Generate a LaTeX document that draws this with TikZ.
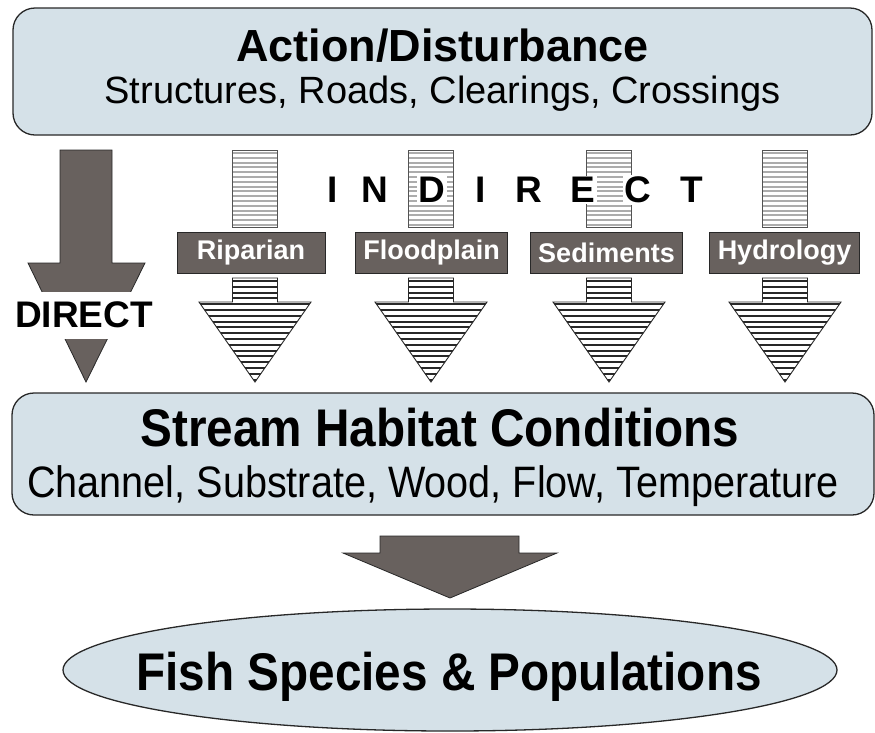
\documentclass[tikz,border=0pt]{standalone}
\usepackage{fontspec}
\setmainfont{Liberation Sans}
\newfontfamily\narrowsans[FakeStretch=0.9]{Liberation Sans}
\usetikzlibrary{positioning,shapes.geometric}

\definecolor{boxblue}{RGB}{213,225,232}
\definecolor{arrowgray}{RGB}{104,97,94}
\definecolor{stripegray}{RGB}{172,172,172}
\definecolor{edgegray}{RGB}{40,40,40}

\newcommand\figsize[1]{\fontsize{#1}{#1}\selectfont}

\tikzset{
  stage/.style={draw=edgegray,line width=1.3pt,fill=boxblue,
    rounded corners=22pt,inner sep=0pt},
  factor/.style={draw=edgegray,line width=0.8pt,fill=arrowgray,text=white,
    font=\figsize{27}\bfseries,minimum width=148pt,minimum height=41pt,
    inner xsep=8pt,inner ysep=0pt},
  solidarrow/.style={draw=edgegray,line width=0.8pt,fill=arrowgray},
  shaftedge/.style={draw=edgegray!80,line width=0.9pt},
  lightstripe/.style={stripegray,line width=2pt},
  darkstripe/.style={edgegray,line width=2.1pt},
  letter/.style={fill=white,inner sep=1.5pt,font=\figsize{37}\bfseries}
}

\begin{document}
\begin{tikzpicture}[x=1pt,y=-1pt]

\useasboundingbox (0,0) rectangle (875,732);

% Action box
\node[stage,minimum width=859pt,minimum height=127pt] (action) at (442.5,71.5) {};
\node[anchor=base,font=\figsize{45}\bfseries] (actiontitle) at (442.5,61)
  {Action/Disturbance};
\node[anchor=base,font=\figsize{38}] (actionsub) at (442.5,103)
  {Structures, Roads, Clearings, Crossings};

% Direct arrow
\draw[solidarrow] (60,150) -- (112,150) -- (112,263) -- (145,263)
  -- (86,382) -- (28,263) -- (60,263) -- cycle;
\node[fill=white,minimum height=47pt,inner xsep=2pt,
  font=\figsize{37}\bfseries] (direct) at (84,315) {DIRECT};

% Indirect arrows
\foreach \c/\b/\name/\txt in {255/251/riparian/Riparian,
    431/431.5/floodplain/Floodplain,609/606.5/sediments/Sediments,
    785/784.5/hydrology/Hydrology}{
  % upper shaft
  \begin{scope}
    \clip (\c-22.5,150) rectangle (\c+22.5,227);
    \fill[white] (\c-22.5,150) rectangle (\c+22.5,227);
    \foreach \yy in {153,157.8,...,227}
      \draw[lightstripe] (\c-25,\yy) -- (\c+25,\yy);
  \end{scope}
  \draw[shaftedge] (\c-22.5,150) rectangle (\c+22.5,227);
  % lower shaft and head
  \begin{scope}
    \clip (\c-22.5,278) -- (\c+22.5,278) -- (\c+22.5,302) -- (\c+56,302)
      -- (\c,382) -- (\c-56,302) -- (\c-22.5,302) -- cycle;
    \foreach \yy in {281,286.8,...,382}
      \draw[darkstripe] (\c-60,\yy) -- (\c+60,\yy);
  \end{scope}
  \draw[edgegray,line width=0.9pt] (\c-22.5,278) -- (\c+22.5,278)
    -- (\c+22.5,302) -- (\c+56,302) -- (\c,382) -- (\c-56,302)
    -- (\c-22.5,302) -- cycle;
  % label
  \node[factor] (\name) at (\b,252.5) {\txt};
}

% Indirect letters
\foreach \x/\l [count=\i] in {333/I,375/N,432/D,481/I,529/R,583/E,638/C,692/T}
  \node[letter] (ind\i) at (\x,190) {\l};

% Stream habitat box
\node[stage,minimum width=862pt,minimum height=122pt] (habitat) at (443,454) {};
\node[anchor=base,font=\figsize{53}\narrowsans\bfseries] (habitattitle)
  at (440,446) {Stream Habitat Conditions};
\node[anchor=base,font=\figsize{44}\narrowsans] (habitatsub) at (433,497)
  {Channel, Substrate, Wood, Flow, Temperature};

% Arrow down to fish
\draw[solidarrow] (380,536) -- (519,536) -- (519,553) -- (557,553)
  -- (450,598) -- (343,553) -- (380,553) -- cycle;

% Fish box
\node[ellipse,draw=edgegray,line width=1.3pt,fill=boxblue,inner sep=0pt,
  minimum width=774pt,minimum height=122pt] (fish) at (450,670) {};
\node[anchor=base,font=\figsize{53}\narrowsans\bfseries] (fishtitle)
  at (449,690) {Fish Species \& Populations};

\end{tikzpicture}
\end{document}
